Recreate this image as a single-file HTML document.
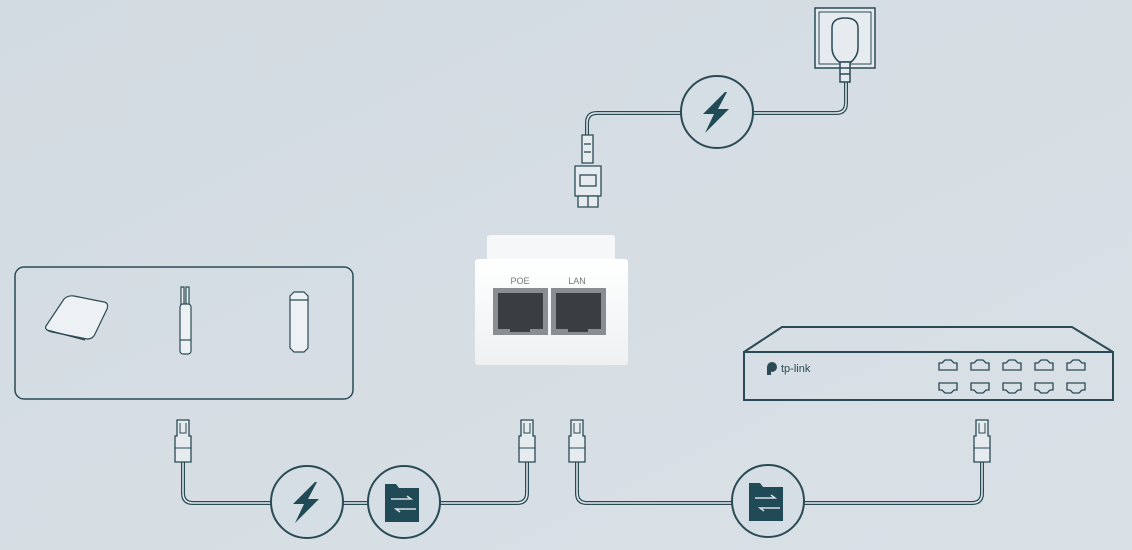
<!DOCTYPE html>
<html><head><meta charset="utf-8"><style>
html,body{margin:0;padding:0;background:#d6dee5;}
svg{display:block;}
</style></head><body>
<svg width="1132" height="550" viewBox="0 0 1132 550" xmlns="http://www.w3.org/2000/svg" font-family="Liberation Sans, sans-serif">
<defs>
<linearGradient id="bg" x1="0" y1="0" x2="1" y2="1"><stop offset="0" stop-color="#d3dbe2"/><stop offset="1" stop-color="#d9e0e6"/></linearGradient>
<linearGradient id="wh" x1="0" y1="0" x2="0" y2="1"><stop offset="0" stop-color="#ffffff"/><stop offset="1" stop-color="#eef0f2"/></linearGradient>
<g id="rj">
<path d="M-6,0 h12 v16 h2 v26 h-16 v-26 h2z" fill="#e6ebef" stroke="#2a4b55" stroke-width="1.3"/>
<path d="M-3,3 v10 h6 v-10" fill="none" stroke="#2a4b55" stroke-width="1"/>
<line x1="-8" y1="28" x2="8" y2="28" stroke="#2a4b55" stroke-width="1"/>
</g>
<g id="port">
<path d="M-9,-2 v-3 h3 l3,-3 h6 l3,3 h3 v3 v4 h-18z" fill="none" stroke="#2a4b55" stroke-width="1.3"/>
</g>
</defs>
<rect width="1132" height="550" fill="url(#bg)"/>
<g fill="none" stroke-linecap="round" stroke-linejoin="round">
<g stroke="#2a4b55" stroke-width="4">
<path d="M183,462 V493 q0,10 10,10 H517 q10,0 10,-10 V462"/>
<path d="M577,462 V493 q0,10 10,10 H972 q10,0 10,-10 V462"/>
<path d="M587,135 V123 q0,-10 10,-10 H836 q10,0 10,-10 V82"/>
</g>
<g stroke="#e8edf1" stroke-width="1.5">
<path d="M183,462 V493 q0,10 10,10 H517 q10,0 10,-10 V462"/>
<path d="M577,462 V493 q0,10 10,10 H972 q10,0 10,-10 V462"/>
<path d="M587,135 V123 q0,-10 10,-10 H836 q10,0 10,-10 V82"/>
</g>
</g>
<g fill="#d6dee5" stroke="#2a4b55" stroke-width="2">
<circle cx="307" cy="502" r="36"/><circle cx="404" cy="502" r="36"/>
<circle cx="768" cy="501" r="36"/><circle cx="717" cy="112" r="36"/>
</g>
<g fill="#1f4a56">
<path d="M315,482 l-22,22 h11 l-9,19 l24,-24 h-11 l9,-17z"/>
<path d="M725,92 l-22,22 h11 l-9,19 l24,-24 h-11 l9,-17z"/>
</g>
<g id="fold">
<path d="M385,484 h11 l3,4 h17 v0 h3 v34 h-34z" fill="#1f4a56"/>
<path d="M391,499 h20 l-4,-3 M416,509 h-20 l4,3" fill="none" stroke="#d6dee5" stroke-width="1.5"/>
</g>
<use href="#fold" x="364" y="-1"/>
<use href="#rj" x="183" y="420"/><use href="#rj" x="527" y="420"/>
<use href="#rj" x="577" y="420"/><use href="#rj" x="982" y="420"/>
<g fill="#e6ebef" stroke="#2a4b55" stroke-width="1.3">
<path d="M582,135 h11 v28 h-11z"/>
<path d="M575,166 h26 v30 h-26z"/>
<path d="M578,196 h20 v11 h-20z"/>
<rect x="580" y="175" width="16" height="11"/>
<line x1="584" y1="144" x2="591" y2="144"/><line x1="584" y1="152" x2="591" y2="152"/>
<line x1="588" y1="196" x2="588" y2="207"/>
</g>
<g fill="#e6ebef" stroke="#2a4b55" stroke-width="1.5">
<rect x="815" y="8" width="60" height="60"/>
<rect x="819" y="12" width="52" height="52" fill="none" stroke-width="1"/>
<path d="M832,28 q0,-10 13,-10 q13,0 13,10 v20 q0,8 -7,14 h-12 q-7,-6 -7,-14z"/>
<path d="M840,62 h10 v20 h-10z"/>
<line x1="840" y1="68" x2="850" y2="68"/><line x1="840" y1="74" x2="850" y2="74"/>
</g>
<rect x="15" y="267" width="338" height="132" rx="9" fill="none" stroke="#2a4b55" stroke-width="1.5"/>
<g fill="#eef1f3" stroke="#2a4b55" stroke-width="1.2">
<path d="M46,326 l18,-27 q4,-4 10,-3 l30,6 q5,1 3,7 l-12,25 q-2,5 -8,5 l-35,-7 q-8,-2 -6,-6z"/>
<line x1="47" y1="330" x2="85" y2="340"/>
<rect x="181" y="287" width="3" height="18"/><rect x="186" y="287" width="3" height="18"/>
<rect x="180" y="304" width="11" height="50" rx="3"/>
<line x1="180" y1="340" x2="191" y2="340"/>
<path d="M290,296 l4,-4 h10 l4,4 v52 l-4,4 h-10 l-4,-4z"/>
<line x1="290" y1="300" x2="308" y2="300"/>
</g>
<path d="M487,238 q0,-3 3,-3 h122 q3,0 3,3 v23 h-128z" fill="#f6f7f8"/>
<rect x="475" y="259" width="153" height="106" rx="3" fill="url(#wh)"/>
<text x="520" y="284" font-size="9" fill="#777" text-anchor="middle">POE</text>
<text x="577" y="284" font-size="9" fill="#777" text-anchor="middle">LAN</text>
<g>
<rect x="493" y="288" width="55" height="47" fill="#8a8e90"/>
<rect x="498" y="293" width="45" height="36" fill="#3a3e41"/>
<rect x="510" y="322" width="20" height="10" fill="#3a3e41"/>
<rect x="551" y="288" width="55" height="47" fill="#8a8e90"/>
<rect x="556" y="293" width="45" height="36" fill="#3a3e41"/>
<rect x="568" y="322" width="20" height="10" fill="#3a3e41"/>
</g>
<g fill="none" stroke="#2a4b55" stroke-width="2">
<path d="M744,352 L782,327 H1072 L1113,352"/>
<rect x="744" y="352" width="369" height="48"/>
</g>
<circle cx="772" cy="367" r="5" fill="#2a4b55"/><rect x="767" y="367" width="4" height="8" fill="#2a4b55"/>
<text x="781" y="372" font-size="11" fill="#2a4b55">tp-link</text>
<g>
<use href="#port" x="948" y="368"/><use href="#port" x="980" y="368"/><use href="#port" x="1012" y="368"/><use href="#port" x="1044" y="368"/><use href="#port" x="1076" y="368"/>
<g transform="translate(0,768) scale(1,-1)">
<use href="#port" x="948" y="383"/><use href="#port" x="980" y="383"/><use href="#port" x="1012" y="383"/><use href="#port" x="1044" y="383"/><use href="#port" x="1076" y="383"/>
</g>
</g>
</svg>
</body></html>
